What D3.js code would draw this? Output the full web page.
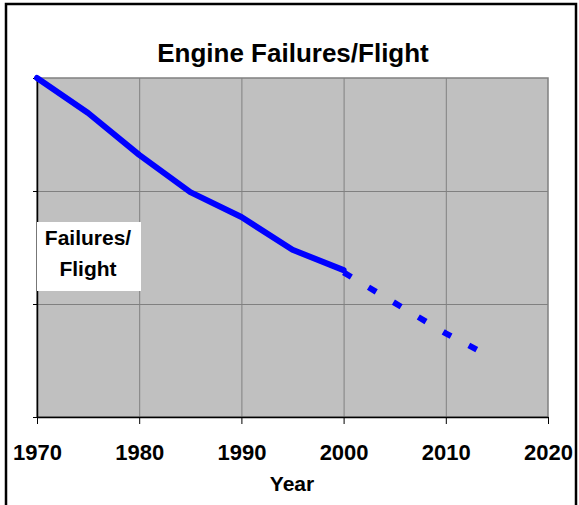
<!DOCTYPE html>
<html lang="en">
<head>
    <meta charset="UTF-8">
    <title>Engine Failures/Flight</title>
    <style>
        body { margin: 0; background: #fff; font-family: Arial, 'Liberation Sans', Helvetica, sans-serif; }
        .tick text { font-weight: bold; font-size: 22px; fill: #000; font-family: Arial, 'Liberation Sans', sans-serif; }
        .axisX path, .axisX line, .axisY path, .axisY line { stroke: #000; }
    </style>
</head>
<body>
    <div id='chart'></div>
</body>
</html>
<script src="https://cdnjs.cloudflare.com/ajax/libs/d3/7.8.5/d3.min.js"></script>
<script>
    // data
    const years = [1970, 1975, 1980, 1985, 1990, 1995, 2000];
    const failures = [3.0, 2.69, 2.32, 1.99, 1.77, 1.48, 1.30];
    const projYears = [2000, 2010, 2014];
    const projFailures = [1.28, 0.74, 0.55];
    const xTicks = [1970, 1980, 1990, 2000, 2010, 2020];
    const yTicks = [0, 1, 2, 3];

    const W = 579, H = 505;
    const plot = { left: 37, top: 78, right: 548, bottom: 417 };

    const svg = d3.select('#chart').append('svg')
        .attr('width', W)
        .attr('height', H);

    // outer frame
    svg.append('rect')
        .attr('x', 6).attr('y', 4)
        .attr('width', 570).attr('height', 520)
        .attr('fill', '#fff')
        .attr('stroke', '#000')
        .attr('stroke-width', 2.5);

    const x = d3.scaleLinear().domain([1970, 2020]).range([plot.left, plot.right]);
    const y = d3.scaleLinear().domain([0, 3]).range([plot.bottom, plot.top]);

    // plot background
    svg.append('rect')
        .attr('x', plot.left).attr('y', plot.top)
        .attr('width', plot.right - plot.left)
        .attr('height', plot.bottom - plot.top)
        .attr('fill', '#c0c0c0')
        .attr('stroke', '#808080')
        .attr('stroke-width', 1.5);

    // grid
    svg.append('g').selectAll('line')
        .data(xTicks.slice(1, -1))
        .enter().append('line')
        .attr('x1', d => x(d) + 0.5).attr('x2', d => x(d) + 0.5)
        .attr('y1', plot.top).attr('y2', plot.bottom)
        .attr('stroke', '#808080');
    svg.append('g').selectAll('line')
        .data(yTicks.slice(1, -1))
        .enter().append('line')
        .attr('x1', plot.left).attr('x2', plot.right)
        .attr('y1', d => y(d) + 0.5).attr('y2', d => y(d) + 0.5)
        .attr('stroke', '#808080');

    // axes
    svg.append('g')
        .attr('class', 'axisX')
        .attr('transform', 'translate(0,' + plot.bottom + ')')
        .call(d3.axisBottom(x).tickValues(xTicks).tickFormat(d3.format('d')).tickSize(7).tickSizeOuter(0).tickPadding(20))
        .call(g => g.select('.domain').attr('stroke-width', 1.5));

    svg.append('g')
        .attr('class', 'axisY')
        .attr('transform', 'translate(' + plot.left + ',0)')
        .call(d3.axisLeft(y).tickValues(yTicks).tickFormat('').tickSize(4).tickSizeOuter(0))
        .call(g => g.select('.domain').attr('stroke-width', 1.5));

    const line = d3.line()
        .x(d => x(d[0]))
        .y(d => y(d[1]));

    // historical series
    svg.append('path')
        .datum(years.map((d, i) => [d, failures[i]]))
        .attr('d', line)
        .attr('fill', 'none')
        .attr('stroke', '#0000ff')
        .attr('stroke-width', 6)
        .attr('stroke-linejoin', 'round')
        .attr('stroke-linecap', 'round');

    // projection
    svg.append('path')
        .datum(projYears.map((d, i) => [d, projFailures[i]]))
        .attr('d', line)
        .attr('fill', 'none')
        .attr('stroke', '#0000ff')
        .attr('stroke-width', 6)
        .attr('stroke-dasharray', '9,20');

    // title
    svg.append('text')
        .attr('x', 293).attr('y', 62)
        .attr('text-anchor', 'middle')
        .attr('font-weight', 'bold')
        .attr('font-size', 26)
        .text('Engine Failures/Flight');

    // x axis title
    svg.append('text')
        .attr('x', 292).attr('y', 491)
        .attr('text-anchor', 'middle')
        .attr('font-weight', 'bold')
        .attr('font-size', 21)
        .text('Year');

    // y axis title box
    svg.append('rect')
        .attr('x', plot.left).attr('y', 222)
        .attr('width', 104).attr('height', 69)
        .attr('fill', '#fff');
    const yt = svg.append('text')
        .attr('text-anchor', 'middle')
        .attr('font-weight', 'bold')
        .attr('font-size', 21);
    yt.append('tspan').attr('x', 88).attr('y', 245).text('Failures/');
    yt.append('tspan').attr('x', 88).attr('y', 276).text('Flight');
</script>
